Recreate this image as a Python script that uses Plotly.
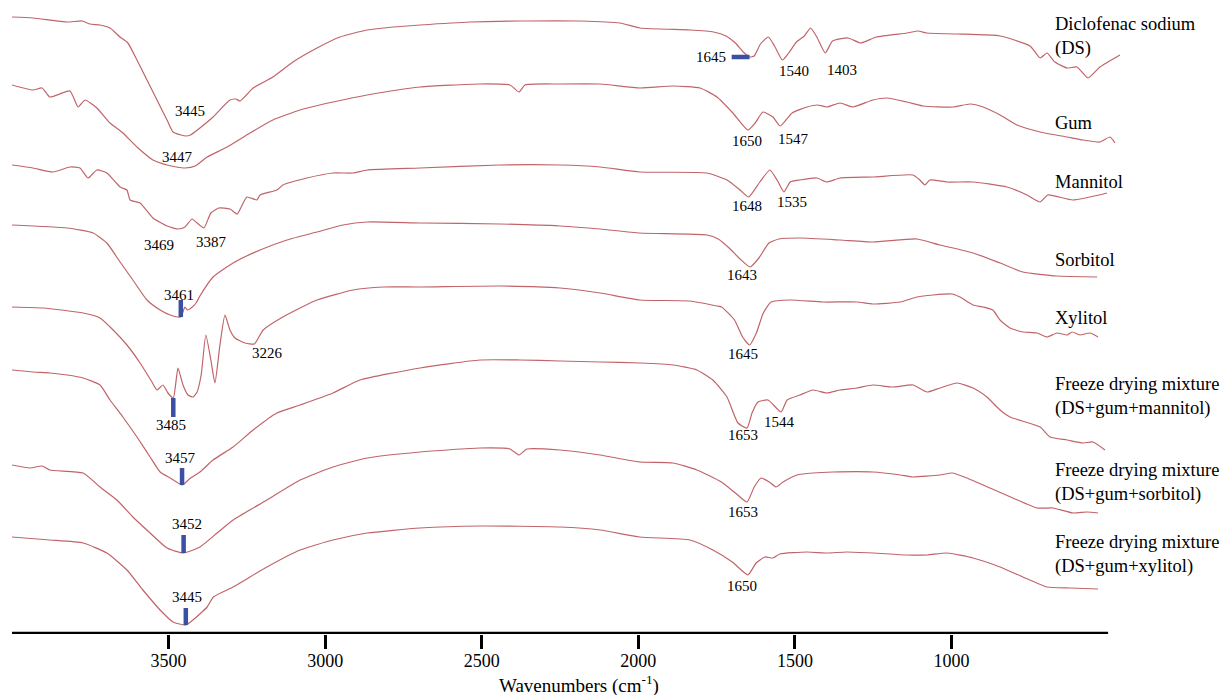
import numpy as np
import plotly.graph_objects as go

# Stacked FTIR spectra: wavenumber (cm-1) and offset transmittance (a.u.)
ds_wn = [4000, 3933, 3824, 3776, 3751, 3719, 3687, 3655, 3630, 3601,
         3569, 3537, 3505, 3486, 3460, 3445, 3430, 3400, 3358, 3304,
         3285, 3272, 3230, 3167, 3103, 3026, 2953, 2866, 2783, 2697,
         2537, 2378, 2186, 2059, 1995, 1835, 1760, 1720, 1690, 1665,
         1645, 1630, 1610, 1585, 1565, 1540, 1520, 1495, 1470, 1450,
         1430, 1403, 1380, 1330, 1290, 1240, 1142, 1107, 1078, 982,
         845, 749, 717, 695, 670, 631, 599, 564, 526, 462]
ds_t = [617, 616, 612, 613, 610, 609, 606, 597, 591, 574,
        554, 534, 514, 502, 499, 498, 499, 506, 517, 534,
        535, 533, 546, 557, 572, 586, 597, 604, 607, 609,
        612, 613, 613, 611, 606, 604, 602, 598, 591, 582,
        577, 578, 590, 597, 588, 574, 581, 592, 598, 606,
        597, 581, 593, 596, 591, 597, 601, 603, 601, 600,
        598, 588, 576, 581, 572, 566, 567, 556, 567, 579]

gum_wn = [4000, 3933, 3904, 3879, 3815, 3789, 3767, 3729, 3687, 3646,
          3601, 3550, 3505, 3475, 3447, 3415, 3377, 3313, 3240, 3167,
          3080, 2975, 2866, 2697, 2506, 2410, 2381, 2362, 2250, 2122,
          1995, 1889, 1803, 1749, 1698, 1650, 1627, 1602, 1570, 1547,
          1509, 1461, 1428, 1398, 1356, 1315, 1251, 1206, 1142, 1091,
          995, 941, 899, 845, 791, 717, 631, 580, 526, 494,
          478]
gum_t = [549, 544, 546, 537, 543, 527, 534, 526, 511, 501,
         487, 474, 469, 467, 466, 468, 477, 487, 501, 514,
         524, 532, 539, 547, 550, 549, 542, 549, 550, 550,
         546, 548, 546, 537, 521, 504, 511, 522, 517, 508,
         521, 527, 529, 527, 531, 527, 534, 536, 532, 528,
         527, 530, 527, 519, 509, 502, 497, 494, 492, 497,
         491]

man_wn = [4000, 3933, 3869, 3815, 3783, 3757, 3729, 3697, 3655, 3633,
          3623, 3591, 3550, 3505, 3469, 3448, 3425, 3409, 3387, 3365,
          3340, 3304, 3281, 3250, 3218, 3208, 3154, 3135, 3058, 2975,
          2911, 2866, 2697, 2442, 2250, 2122, 1995, 1781, 1717, 1675,
          1648, 1612, 1580, 1557, 1535, 1515, 1484, 1430, 1398, 1356,
          1251, 1123, 1101, 1085, 1069, 1014, 931, 823, 759, 717,
          692, 612, 503]
man_t = [469, 466, 462, 467, 466, 456, 464, 461, 447, 444,
         434, 431, 416, 408, 405, 407, 415, 411, 406, 421,
         426, 425, 420, 437, 434, 439, 444, 449, 456, 461,
         461, 464, 466, 469, 469, 467, 462, 461, 454, 444,
         437, 452, 464, 454, 442, 452, 454, 456, 452, 456,
         457, 459, 454, 449, 454, 452, 452, 447, 439, 432,
         439, 434, 441]

sor_wn = [4000, 3824, 3741, 3697, 3655, 3614, 3569, 3527, 3495, 3461,
          3448, 3440, 3428, 3412, 3400, 3358, 3294, 3208, 3122, 3026,
          2943, 2866, 2697, 2442, 2250, 2122, 1995, 1781, 1745, 1710,
          1675, 1643, 1615, 1583, 1551, 1484, 1356, 1251, 1110, 1037,
          931, 845, 772, 663, 535]
sor_t = [409, 406, 401, 391, 372, 354, 334, 324, 319, 317,
         327, 324, 326, 331, 338, 357, 371, 384, 394, 402,
         409, 412, 411, 410, 408, 405, 401, 399, 395, 386,
         375, 367, 376, 391, 395, 396, 394, 392, 395, 389,
         381, 371, 362, 358, 357]

xyl_wn = [4000, 3901, 3773, 3719, 3677, 3633, 3591, 3553, 3537, 3518,
          3502, 3485, 3470, 3454, 3438, 3422, 3409, 3396, 3381, 3365,
          3352, 3336, 3320, 3304, 3288, 3256, 3226, 3198, 3135, 3026,
          2911, 2815, 2697, 2442, 2250, 2122, 1995, 1835, 1749, 1734,
          1693, 1667, 1645, 1623, 1601, 1576, 1516, 1410, 1302, 1251,
          1164, 1110, 1059, 998, 973, 931, 899, 868, 845, 813,
          772, 727, 695, 663, 631, 615, 590, 558, 532]
xyl_t = [327, 326, 321, 316, 304, 289, 271, 252, 244, 249,
         241, 236, 266, 249, 239, 237, 242, 259, 299, 274,
         251, 289, 319, 304, 296, 291, 290, 304, 317, 334,
         344, 347, 347, 348, 346, 341, 334, 333, 328, 327,
         314, 297, 289, 301, 321, 332, 334, 332, 332, 330,
         332, 337, 339, 340, 337, 329, 327, 324, 314, 306,
         302, 301, 297, 301, 299, 302, 299, 301, 297]

fdm_wn = [4000, 3933, 3879, 3824, 3773, 3719, 3687, 3646, 3601, 3559,
          3527, 3495, 3457, 3430, 3400, 3358, 3294, 3230, 3154, 3080,
          2975, 2889, 2697, 2506, 2378, 2250, 2122, 1995, 1889, 1813,
          1762, 1717, 1682, 1653, 1637, 1618, 1586, 1544, 1525, 1484,
          1442, 1398, 1356, 1302, 1251, 1187, 1123, 1078, 1037, 982,
          931, 887, 845, 813, 717, 685, 631, 580, 548, 510]
fdm_t = [264, 262, 261, 259, 256, 249, 234, 217, 197, 177,
         162, 156, 149, 156, 162, 174, 187, 204, 221, 229,
         241, 254, 266, 274, 274, 273, 272, 271, 269, 264,
         254, 237, 211, 206, 221, 232, 234, 222, 234, 239,
         244, 241, 244, 246, 249, 247, 249, 242, 246, 251,
         246, 237, 224, 217, 207, 197, 194, 191, 192, 184]

fds_wn = [4000, 3943, 3904, 3879, 3773, 3719, 3665, 3614, 3559, 3505,
          3452, 3400, 3345, 3294, 3186, 3080, 2975, 2866, 2697, 2506,
          2410, 2381, 2356, 2250, 2122, 1995, 1889, 1813, 1735, 1690,
          1653, 1630, 1608, 1582, 1560, 1538, 1493, 1442, 1378, 1251,
          1164, 1123, 1037, 998, 951, 877, 804, 727, 676, 612,
          567, 532]
fds_t = [169, 166, 168, 164, 161, 147, 134, 117, 101, 86,
         81, 87, 101, 114, 134, 154, 167, 176, 182, 186,
         185, 179, 185, 184, 179, 172, 171, 164, 152, 141,
         132, 147, 156, 152, 147, 152, 159, 161, 162, 162,
         159, 157, 159, 161, 156, 146, 136, 126, 126, 121,
         122, 121]

fdx_wn = [4000, 3879, 3773, 3697, 3633, 3582, 3527, 3486, 3445, 3422,
          3377, 3357, 3294, 3186, 3080, 2975, 2866, 2697, 2506, 2250,
          2122, 1995, 1835, 1762, 1700, 1650, 1624, 1596, 1570, 1548,
          1461, 1398, 1334, 1251, 1142, 1078, 1014, 931, 845, 772,
          695, 622, 532]
fdx_t = [97, 94, 91, 81, 64, 44, 24, 12, 9, 14,
         27, 37, 47, 67, 84, 94, 101, 106, 108, 107,
         104, 97, 94, 84, 72, 59, 71, 77, 76, 80,
         82, 81, 82, 81, 79, 79, 81, 76, 67, 57,
         47, 46, 45]

sample_names = ["Diclofenac sodium<br>(DS)", "Gum", "Mannitol", "Sorbitol", "Xylitol",
                "Freeze drying mixture<br>(DS+gum+mannitol)",
                "Freeze drying mixture<br>(DS+gum+sorbitol)",
                "Freeze drying mixture<br>(DS+gum+xylitol)"]
tick_values = [3500, 3000, 2500, 2000, 1500, 1000]

spectra = {
    "ds": (ds_wn, ds_t), "gum": (gum_wn, gum_t), "man": (man_wn, man_t),
    "sor": (sor_wn, sor_t), "xyl": (xyl_wn, xyl_t), "fdm": (fdm_wn, fdm_t),
    "fds": (fds_wn, fds_t), "fdx": (fdx_wn, fdx_t),
}
for key, (w, t) in spectra.items():
    if len(w) != len(t):
        raise ValueError(f"{key}: {len(w)} wavenumbers vs {len(t)} values")

# Labelled absorption bands: (spectrum, band position, label x/y offset in px)
band_labels = [
    ("ds", 3445, 4, 25), ("ds", 1540, 12, -11), ("ds", 1403, 17, -17),
    ("gum", 3447, -8, 11), ("gum", 1650, -1, -11), ("gum", 1547, 13, -13),
    ("man", 3469, -19, -16), ("man", 3387, 8, -14), ("man", 1648, -2, -9), ("man", 1535, 8, -10),
    ("sor", 3461, -2, 22), ("sor", 1643, -8, -8),
    ("xyl", 3485, -2, -27), ("xyl", 3226, 13, -9), ("xyl", 1645, -7, -9),
    ("fdm", 3457, -2, 27), ("fdm", 1653, -4, -7), ("fdm", 1544, -2, -10),
    ("fds", 3452, 3, 29), ("fds", 1653, -4, -10),
    ("fdx", 3445, 1, 28), ("fdx", 1650, -6, -11),
]
# Vertical marker bars at bands: (spectrum, band, length, + up / - down)
band_bars = [("sor", 3461, 17), ("xyl", 3485, -19), ("fdm", 3457, 17),
             ("fds", 3452, 18), ("fdx", 3445, 17)]
# Horizontal marker at the DS carbonyl band
ds_marker_band = 1645

LINE = "#c06469"
BAR = "#3b4fa3"
SERIF = "Liberation Serif"


def value_at(key, band):
    w, t = spectra[key]
    return float(np.interp(band, w[::-1], t[::-1]))


fig = go.Figure()
for key, (w, t) in spectra.items():
    fig.add_trace(go.Scatter(x=w, y=t, mode="lines", showlegend=False, hoverinfo="skip",
                             line=dict(color=LINE, width=1.2, shape="spline", smoothing=0.5)))

for key, band, length in band_bars:
    y0 = value_at(key, band)
    fig.add_trace(go.Scatter(x=[band, band], y=[y0, y0 + length], mode="lines",
                             showlegend=False, hoverinfo="skip",
                             line=dict(color=BAR, width=4.5)))

y_ds = value_at("ds", ds_marker_band)
fig.add_trace(go.Scatter(x=[ds_marker_band + 57, ds_marker_band], y=[y_ds, y_ds], mode="lines",
                         showlegend=False, hoverinfo="skip", line=dict(color=BAR, width=4.5)))

annotations = []
for key, band, dx, dy in band_labels:
    annotations.append(dict(x=band, y=value_at(key, band), xref="x", yref="y",
                            text=str(band), showarrow=False, xshift=dx, yshift=dy,
                            xanchor="center", yanchor="middle",
                            font=dict(family=SERIF, size=15, color="black")))
annotations.append(dict(x=ds_marker_band + 57, y=y_ds, xref="x", yref="y",
                        text=str(ds_marker_band), showarrow=False, xshift=-4,
                        xanchor="right", yanchor="middle",
                        font=dict(family=SERIF, size=15, color="black")))

# Sample names in the right-hand column
name_y = [597.5, 511, 452, 374, 316, 238, 152, 80]
for name, y in zip(sample_names, name_y):
    annotations.append(dict(x=0.931, y=y, xref="paper", yref="y", text=name,
                            showarrow=False, xanchor="left", yanchor="middle", align="left",
                            font=dict(family=SERIF, size=18.5, color="black")))

annotations.append(dict(x=0.507, y=-0.08, xref="paper", yref="paper",
                        text="Wavenumbers (cm<sup>-1</sup>)", showarrow=False,
                        xanchor="center", yanchor="middle",
                        font=dict(family=SERIF, size=19, color="black")))

fig.update_layout(
    width=1226, height=695,
    margin=dict(l=12, r=96, t=0, b=61),
    paper_bgcolor="white", plot_bgcolor="white",
    annotations=annotations,
    shapes=[dict(type="line", xref="x", yref="y", x0=4000, x1=500, y0=0, y1=0,
                 line=dict(color="black", width=4.5), layer="above")],
    xaxis=dict(range=[4000, 430], tickvals=tick_values, ticks="outside", ticklen=14,
               tickwidth=3, tickcolor="black", showline=False, showgrid=False,
               zeroline=False, ticklabelstandoff=-4,
               tickfont=dict(family=SERIF, size=18, color="black")),
    yaxis=dict(range=[0, 634], visible=False, showgrid=False, zeroline=False),
)

fig.write_html("out.html")
